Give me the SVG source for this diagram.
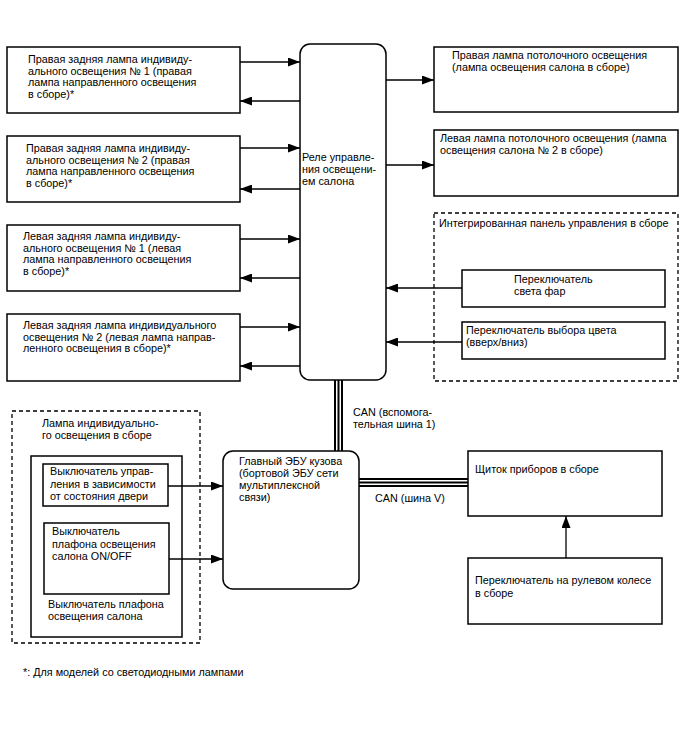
<svg xmlns="http://www.w3.org/2000/svg" width="688" height="755" viewBox="0 0 688 755">
<defs>
<marker id="ah" markerUnits="userSpaceOnUse" markerWidth="12" markerHeight="9" refX="12" refY="4.5" orient="auto">
<path d="M0,0 L12,4.5 L0,9 z" fill="#000"/>
</marker>
<style>
text{font-family:"Liberation Sans",Arial,sans-serif;font-size:10.8px;fill:#000}
.box{fill:#fff;stroke:#000;stroke-width:1.5}
.dash{fill:none;stroke:#000;stroke-width:1.3;stroke-dasharray:4,3}
.c{stroke:#000;stroke-width:1.3;fill:none;marker-end:url(#ah)}
.bus{stroke:#000;stroke-width:2;fill:none}
</style>
</defs>
<rect width="688" height="755" fill="#fff"/>

<g id="rear-r1">
<rect class="box" x="7" y="47" width="233" height="66"/>
<text x="28" y="63">Правая задняя лампа индивиду-</text>
<text x="28" y="74.5">ального освещения № 1 (правая</text>
<text x="28" y="86">лампа направленного освещения</text>
<text x="28" y="97.5">в сборе)*</text>
</g>
<g id="rear-r2">
<rect class="box" x="7" y="136" width="233" height="66"/>
<text x="26" y="152">Правая задняя лампа индивиду-</text>
<text x="26" y="163.5">ального освещения № 2 (правая</text>
<text x="26" y="175">лампа направленного освещения</text>
<text x="26" y="186.5">в сборе)*</text>
</g>
<g id="rear-l1">
<rect class="box" x="7" y="225" width="233" height="66"/>
<text x="23" y="240">Левая задняя лампа индивиду-</text>
<text x="23" y="251.5">ального освещения № 1 (левая</text>
<text x="23" y="263">лампа направленного освещения</text>
<text x="23" y="274.5">в сборе)*</text>
</g>
<g id="rear-l2">
<rect class="box" x="7" y="314" width="233" height="67"/>
<text x="23" y="329">Левая задняя лампа индивидуального</text>
<text x="23" y="340.5">освещения № 2 (левая лампа направ-</text>
<text x="23" y="352">ленного освещения в сборе)*</text>
</g>
<g id="relay">
<rect class="box" x="300" y="44" width="86" height="336" rx="10"/>
<text x="302" y="161">Реле управле-</text>
<text x="302" y="173">ния освещени-</text>
<text x="302" y="185">ем салона</text>
</g>
<g id="dome-r">
<rect class="box" x="434" y="47" width="244" height="65"/>
<text x="452" y="59">Правая лампа потолочного освещения</text>
<text x="452" y="71">(лампа освещения салона в сборе)</text>
</g>
<g id="dome-l">
<rect class="box" x="434" y="130" width="244" height="66"/>
<text x="440" y="142">Левая лампа потолочного освещения (лампа</text>
<text x="440" y="154">освещения салона № 2 в сборе)</text>
</g>
<g id="panel">
<rect class="dash" x="434" y="213" width="244" height="168"/>
<text x="439" y="227">Интегрированная панель управления в сборе</text>
</g>
<g id="headlight-sw">
<rect class="box" x="462" y="270" width="203" height="37"/>
<text x="514" y="283">Переключатель</text>
<text x="514" y="295">света фар</text>
</g>
<g id="color-sw">
<rect class="box" x="462" y="322" width="203" height="37"/>
<text x="466" y="334">Переключатель выбора цвета</text>
<text x="466" y="346">(вверх/вниз)</text>
</g>
<g id="lamp-assy">
<rect class="dash" x="12" y="411" width="188" height="232"/>
<text x="42" y="427">Лампа индивидуально-</text>
<text x="42" y="439">го освещения в сборе</text>
</g>
<g id="dome-sw">
<rect class="box" x="31" y="456" width="151" height="181"/>
<text x="48" y="608">Выключатель плафона</text>
<text x="48" y="620">освещения салона</text>
</g>
<g id="door-sw">
<rect class="box" x="43" y="464" width="125" height="42"/>
<text x="50" y="475">Выключатель управ-</text>
<text x="50" y="487.5">ления в зависимости</text>
<text x="50" y="500">от состояния двери</text>
</g>
<g id="onoff-sw">
<rect class="box" x="44" y="523" width="125" height="71"/>
<text x="52" y="535">Выключатель</text>
<text x="52" y="547.5">плафона освещения</text>
<text x="52" y="560">салона ON/OFF</text>
</g>
<g id="ecu">
<rect class="box" x="223" y="451" width="136" height="138" rx="10"/>
<text x="239" y="465">Главный ЭБУ кузова</text>
<text x="239" y="477">(бортовой ЭБУ сети</text>
<text x="239" y="489">мультиплексной</text>
<text x="239" y="501">связи)</text>
</g>
<g id="cluster">
<rect class="box" x="468" y="451" width="194" height="65"/>
<text x="475" y="473">Щиток приборов в сборе</text>
</g>
<g id="steering-sw">
<rect class="box" x="468" y="558" width="194" height="66"/>
<text x="475" y="584">Переключатель на рулевом колесе</text>
<text x="475" y="597">в сборе</text>
</g>
<g id="footnote">
<text x="23" y="676">*: Для моделей со светодиодными лампами</text>
</g>

<g id="connectors">
<line class="c" x1="240" y1="62" x2="300" y2="62"/>
<line class="c" x1="300" y1="101" x2="240" y2="101"/>
<line class="c" x1="240" y1="148" x2="300" y2="148"/>
<line class="c" x1="300" y1="189" x2="240" y2="189"/>
<line class="c" x1="240" y1="239" x2="300" y2="239"/>
<line class="c" x1="300" y1="278" x2="240" y2="278"/>
<line class="c" x1="240" y1="327" x2="300" y2="327"/>
<line class="c" x1="300" y1="366" x2="240" y2="366"/>
<line class="c" x1="386" y1="80" x2="434" y2="80"/>
<line class="c" x1="386" y1="165" x2="434" y2="165"/>
<line class="c" x1="462" y1="288" x2="386" y2="288"/>
<line class="c" x1="462" y1="342" x2="386" y2="342"/>
<line class="c" x1="168" y1="486" x2="223" y2="486"/>
<line class="c" x1="169" y1="559" x2="223" y2="559"/>
<line class="c" x1="566" y1="558" x2="566" y2="516"/>
<line class="bus" x1="335" y1="380" x2="335" y2="451"/>
<line class="bus" x1="338.5" y1="380" x2="338.5" y2="451"/>
<line class="bus" x1="342" y1="380" x2="342" y2="451"/>
<line class="bus" x1="359" y1="479" x2="468" y2="479"/>
<line class="bus" x1="359" y1="482.5" x2="468" y2="482.5"/>
<line class="bus" x1="359" y1="486" x2="468" y2="486"/>
<text x="353" y="416">CAN (вспомога-</text>
<text x="353" y="428">тельная шина 1)</text>
<text x="375" y="502">CAN (шина V)</text>
</g>
</svg>
